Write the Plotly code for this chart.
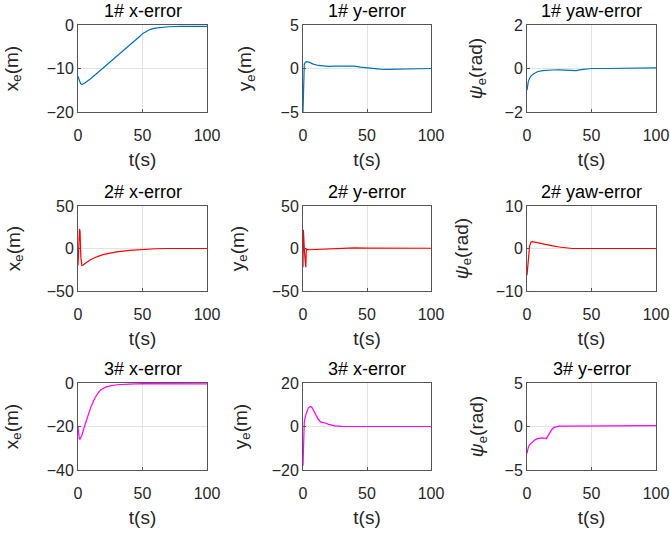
import plotly.graph_objects as go

# ---------------- data ----------------
t1 = [0, 1, 2, 3, 5, 10, 20, 30, 40, 45, 48, 50, 53, 56, 60, 65, 70, 80, 100]
x1 = [-11.8, -13.0, -13.5, -13.7, -13.4, -12.3, -9.8, -7.3, -4.8, -3.4, -2.6, -2.0, -1.4, -1.0, -0.7, -0.5, -0.4, -0.3, -0.3]

t2 = [0, 0.3, 0.6, 1, 2, 3, 5, 8, 12, 16, 20, 25, 30, 35, 40, 45, 50, 55, 60, 65, 70, 80, 90, 100]
y1 = [-5, -2.5, -0.5, 0.5, 0.75, 0.78, 0.7, 0.5, 0.35, 0.28, 0.25, 0.27, 0.3, 0.32, 0.28, 0.15, 0.05, -0.03, -0.08, -0.1, -0.08, -0.03, 0, 0]

t3 = [0, 0.5, 1, 2, 3, 5, 8, 12, 16, 20, 25, 30, 35, 38, 42, 46, 50, 60, 70, 80, 90, 100]
p1 = [-1.0, -0.75, -0.6, -0.45, -0.35, -0.25, -0.15, -0.1, -0.07, -0.07, -0.06, -0.08, -0.11, -0.1, -0.05, -0.02, 0.0, 0.0, 0.01, 0.02, 0.03, 0.03]

t4 = [0, 0.5, 1.2, 1.6, 2.2, 3, 4, 6, 10, 15, 20, 25, 30, 40, 50, 60, 70, 80, 100]
x2 = [-20, 5, 23, 20, -10, -20, -19.5, -17, -13, -9.5, -7, -5.5, -4, -2.2, -1, -0.3, 0, 0, 0]

t5 = [0, 0.3, 0.7, 1.2, 1.7, 2.2, 2.6, 3, 5, 10, 20, 30, 40, 50, 70, 100]
y2 = [-22, 22, 10, -5, -20, -22, 0, -1, -1.5, -1.2, -0.5, 0.3, 0.8, 0.5, 0.3, 0.3]

t6 = [0, 0.5, 1, 2, 3, 4, 6, 10, 15, 20, 25, 30, 35, 40, 50, 100]
p2 = [-6.3, -4, -2, 0.5, 1.5, 1.6, 1.5, 1.2, 0.9, 0.6, 0.35, 0.1, 0, 0, 0, 0]

t7 = [0, 0.5, 1, 1.5, 3, 5, 8, 10, 13, 16, 18, 20, 22, 25, 30, 40, 50, 100]
x3 = [-20, -24, -25.5, -26, -24, -20, -14, -11, -7, -4.2, -3, -2.3, -1.8, -1.3, -0.8, -0.5, -0.3, -0.4]

t8 = [0, 0.3, 0.7, 1, 2, 3, 4, 5, 6, 7, 8, 10, 12, 14, 16, 18, 20, 25, 30, 40, 100]
y3 = [-18, -8, 0, 2, 5, 7, 8.3, 9, 9.1, 8.8, 7.8, 5.5, 3.2, 2.0, 1.9, 1.5, 1.0, 0.3, 0.1, 0, 0]

t9 = [0, 0.5, 1, 2, 4, 6, 8, 10, 12, 14, 15, 17, 19, 21, 23, 25, 30, 50, 100]
p3 = [-3.1, -2.6, -2.4, -2.1, -1.8, -1.55, -1.4, -1.32, -1.3, -1.35, -1.4, -0.9, -0.4, -0.1, 0.0, 0.05, 0.05, 0.05, 0.1]

titles = ["1# x-error", "1# y-error", "1# yaw-error",
          "2# x-error", "2# y-error", "2# yaw-error",
          "3# x-error", "3# x-error", "3# y-error"]
ylabels = ["x<sub>e</sub>(m)", "y<sub>e</sub>(m)", "<i>ψ</i><sub>e</sub>(rad)"] * 3
yranges = [[-20, 0], [-5, 5], [-2, 2],
           [-50, 50], [-50, 50], [-10, 10],
           [-40, 0], [-20, 20], [-5, 5]]
ydticks = [10, 5, 2, 50, 50, 10, 20, 20, 5]
xtickvals = [0, 50, 100]

series = [(t1, x1), (t2, y1), (t3, p1), (t4, x2), (t5, y2), (t6, p2), (t7, x3), (t8, y3), (t9, p3)]
colors = ["#0072BD"] * 3 + ["#FF0000"] * 3 + ["#FF00FF"] * 3

# ---------------- layout (pixel positions in the 670x533 page) ----------------
W, H = 670, 533
col_px = [(78, 207), (303, 431), (527, 656)]
row_px = [(25, 112), (206, 291), (383, 470)]
title_cy = [11, 192, 369]
ystand = [23, 23, 16, 21, 22, 22, 23, 19, 15]

FONT = "Liberation Sans, Arial, Helvetica, sans-serif"
TXT = "#262626"

fig = go.Figure()
layout = dict(width=W, height=H, margin=dict(l=0, r=0, t=0, b=0),
              paper_bgcolor="white", plot_bgcolor="white", showlegend=False,
              font=dict(family=FONT, color=TXT, size=16))
annotations = []

for i in range(9):
    r, c = divmod(i, 3)
    x0, x1p = col_px[c]
    ytop, ybot = row_px[r]
    xd = [x0 / W, x1p / W]
    yd = [1 - ybot / H, 1 - ytop / H]
    n = "" if i == 0 else str(i + 1)
    xa, ya = "x" + n, "y" + n
    t, v = series[i]
    fig.add_trace(go.Scatter(x=t, y=v, mode="lines", line=dict(color=colors[i], width=1.2),
                             xaxis=xa, yaxis=ya, hoverinfo="skip"))
    layout["xaxis" + n] = dict(domain=xd, anchor=ya, range=[0, 100], tickvals=xtickvals,
                               showgrid=True, gridcolor="#e3e3e3", gridwidth=1,
                               zeroline=False, showline=True, linecolor="#555555", linewidth=1,
                               mirror=True, ticks="inside", ticklen=3, tickcolor="#555555",
                               ticklabelstandoff=9,
                               tickfont=dict(size=16, color=TXT), automargin=False,
                               title=dict(text="t(s)", font=dict(size=19, color=TXT), standoff=9))
    ylo, yhi = yranges[i]
    layout["yaxis" + n] = dict(domain=yd, anchor=xa, range=[ylo, yhi], dtick=ydticks[i],
                               tick0=0,
                               showgrid=True, gridcolor="#e3e3e3", gridwidth=1,
                               zeroline=False, showline=True, linecolor="#555555", linewidth=1,
                               mirror=True, ticks="inside", ticklen=3, tickcolor="#555555",
                               tickfont=dict(size=16, color=TXT), automargin=False,
                               title=dict(text=ylabels[i], font=dict(size=19, color=TXT),
                                          standoff=ystand[i]))
    annotations.append(dict(text=titles[i], x=(xd[0] + xd[1]) / 2,
                            y=1 - title_cy[r] / H, xref="paper", yref="paper",
                            xanchor="center", yanchor="middle", showarrow=False, borderpad=0,
                            font=dict(size=18, color="#000000", family=FONT)))

layout["annotations"] = annotations
fig.update_layout(**layout)
# remove the default page margin so the 670x533 figure fills the window exactly
fig.write_html("out.html", config={"displayModeBar": False, "staticPlot": True},
               post_script="document.body.style.margin='0';document.body.style.overflow='hidden';")
